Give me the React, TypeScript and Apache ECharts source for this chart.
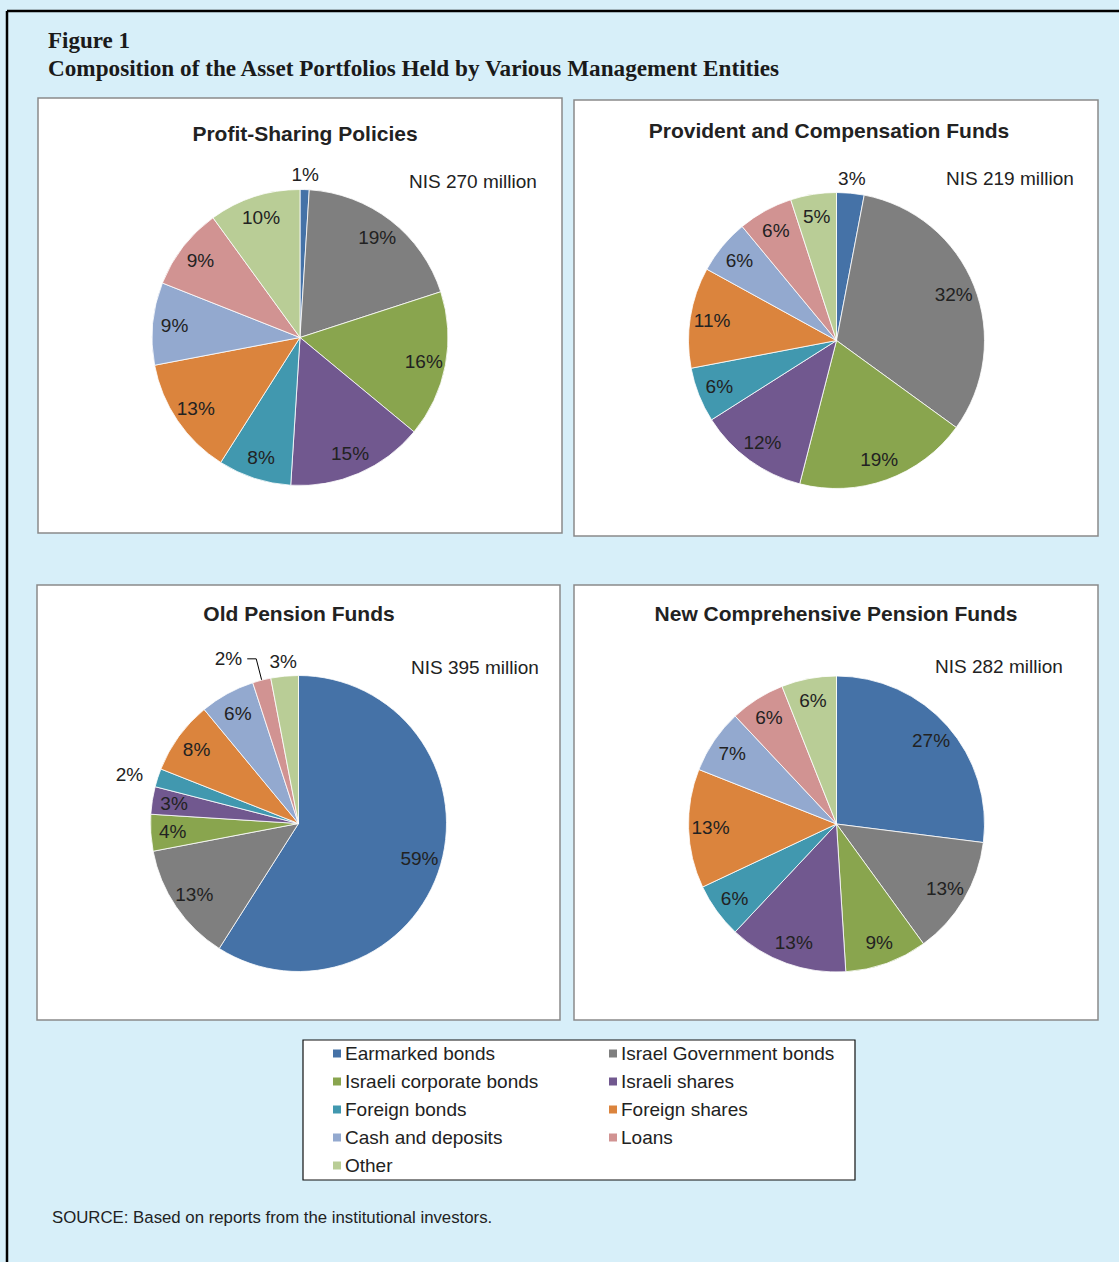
import React, { useEffect, useRef } from "react";
import * as echarts from "echarts";

const categories = [
  "Earmarked bonds",
  "Israel Government bonds",
  "Israeli corporate bonds",
  "Israeli shares",
  "Foreign bonds",
  "Foreign shares",
  "Cash and deposits",
  "Loans",
  "Other",
];
const sliceColors = ["#4572A7", "#7F7F7F", "#89A54E", "#71588F", "#4198AF", "#DB843D", "#93A9CF", "#D19392", "#B9CD96"];

const profitSharing = [1, 19, 16, 15, 8, 13, 9, 9, 10];
const providentComp = [3, 32, 19, 12, 6, 11, 6, 6, 5];
const oldPension = [59, 13, 4, 3, 2, 8, 6, 2, 3];
const newPension = [27, 13, 9, 13, 6, 13, 7, 6, 6];

// label placement per slice: in = inside, ring = just outside, line = with leader line, side = beside edge
const profitSharingLabels = ["ring", "in", "in", "in", "in", "in", "in", "in", "in"];
const providentCompLabels = ["ring", "in", "in", "in", "in", "in", "in", "in", "in"];
const oldPensionLabels = ["in", "in", "in", "in", "side", "in", "in", "line", "ring"];
const newPensionLabels = ["in", "in", "in", "in", "in", "in", "in", "in", "in"];

const panelTitles = [
  "Profit-Sharing Policies",
  "Provident and Compensation Funds",
  "Old Pension Funds",
  "New Comprehensive Pension Funds",
];
const panelTotals = ["NIS 270 million", "NIS 219 million", "NIS 395 million", "NIS 282 million"];
const figureLabel = "Figure 1";
const figureTitle = "Composition of the Asset Portfolios Held by Various Management Entities";
const sourceNote = "SOURCE: Based on reports from the institutional investors.";

const SANS = '"Liberation Sans", Arial, Helvetica, sans-serif';
const SERIF = '"Liberation Serif", "Times New Roman", serif';
const TXT = "#222";

const panels = [
  { box: [38, 98, 524, 435], center: [300, 337.5], title: [305, 133], total: [409, 181] },
  { box: [574, 100, 524, 436], center: [836.5, 340.5], title: [829, 130], total: [946, 178] },
  { box: [37, 585, 523, 435], center: [298.5, 823.5], title: [299, 613], total: [411, 667] },
  { box: [574, 585, 524, 435], center: [836.5, 824], title: [836, 613], total: [935, 666] },
];

const R = 148;

function buildSeries(values: number[], modes: string[], center: number[]) {
  const fmt = (p: any) => p.value + "%";
  const labelFont = { fontSize: 19, color: TXT, fontFamily: SANS };
  const main = {
    type: "pie",
    center,
    radius: [0, R],
    startAngle: 90,
    clockwise: true,
    avoidLabelOverlap: false,
    silent: true,
    z: 2,
    itemStyle: { borderColor: "#ffffff", borderWidth: 0.8 },
    label: { show: false, position: "outside", formatter: fmt, ...labelFont },
    labelLine: { show: false },
    emphasis: { disabled: true },
    data: values.map((v, i) => {
      const m = modes[i];
      const d: any = { name: categories[i], value: v, itemStyle: { color: sliceColors[i] } };
      if (m === "line") {
        d.label = { show: true, position: "outside" };
        d.labelLine = { show: true, length: 22, length2: 9, lineStyle: { color: "#000", width: 1 } };
      } else if (m === "side") {
        d.label = { show: true, position: "outside" };
        d.labelLine = { show: false, length: 10, length2: 0 };
      }
      return d;
    }),
  };
  const mk = (radius: number[], mode: string) => ({
    type: "pie",
    center,
    radius,
    startAngle: 90,
    clockwise: true,
    avoidLabelOverlap: false,
    silent: true,
    z: 3,
    itemStyle: { color: "rgba(0,0,0,0)", borderWidth: 0 },
    label: { show: false, position: "inside", formatter: fmt, ...labelFont },
    labelLine: { show: false },
    emphasis: { disabled: true },
    data: values.map((v, i) => ({
      name: categories[i],
      value: v,
      itemStyle: { color: "rgba(0,0,0,0)" },
      label: { show: modes[i] === mode },
    })),
  });
  return [main, mk([98, R], "in"), mk([149, 171], "ring")];
}

export default function App() {
  const ref = useRef<HTMLDivElement>(null);
  useEffect(() => {
    document.body.style.margin = "0";
    const chart = echarts.init(ref.current!, undefined, { renderer: "svg" });
    const allValues = [profitSharing, providentComp, oldPension, newPension];
    const allModes = [profitSharingLabels, providentCompLabels, oldPensionLabels, newPensionLabels];
    const series: any[] = [];
    panels.forEach((p, k) => series.push(...buildSeries(allValues[k], allModes[k], p.center)));

    const graphics: any[] = [];
    // outer frame
    graphics.push({ type: "line", z: 1, shape: { x1: 7, y1: 11, x2: 1130, y2: 11 }, style: { stroke: "#000", lineWidth: 2.5 } });
    graphics.push({ type: "line", z: 1, shape: { x1: 7, y1: 11, x2: 7, y2: 1270 }, style: { stroke: "#000", lineWidth: 2.5 } });
    graphics.push({ type: "text", z: 5, style: { text: figureLabel, x: 48, y: 40, font: `bold 23px ${SERIF}`, fill: "#1a1a1a", textAlign: "left", textVerticalAlign: "middle" } });
    graphics.push({ type: "text", z: 5, style: { text: figureTitle, x: 48, y: 68, font: `bold 23.2px ${SERIF}`, fill: "#1a1a1a", textAlign: "left", textVerticalAlign: "middle" } });
    panels.forEach((p, k) => {
      graphics.push({
        type: "rect",
        z: 1,
        shape: { x: p.box[0], y: p.box[1], width: p.box[2], height: p.box[3] },
        style: { fill: "#ffffff", stroke: "#8a8a8a", lineWidth: 1.5 },
      });
      graphics.push({ type: "text", z: 5, style: { text: panelTitles[k], x: p.title[0], y: p.title[1], font: `bold 21px ${SANS}`, fill: TXT, textAlign: "center", textVerticalAlign: "middle" } });
      graphics.push({ type: "text", z: 5, style: { text: panelTotals[k], x: p.total[0], y: p.total[1], font: `19px ${SANS}`, fill: TXT, textAlign: "left", textVerticalAlign: "middle" } });
    });
    graphics.push({ type: "rect", z: 1, shape: { x: 303, y: 1040, width: 552, height: 140 }, style: { fill: "#ffffff", stroke: "#111", lineWidth: 1.2 } });
    graphics.push({ type: "text", z: 5, style: { text: sourceNote, x: 52, y: 1217, font: `16.8px ${SANS}`, fill: TXT, textAlign: "left", textVerticalAlign: "middle" } });

    const legendBase = {
      orient: "vertical",
      icon: "rect",
      itemWidth: 10,
      itemHeight: 10,
      itemGap: 9,
      padding: 0,
      selectedMode: false,
      textStyle: { fontSize: 19, lineHeight: 18, color: TXT, fontFamily: SANS, padding: [0, 0, 0, -2] },
      z: 6,
    };
    chart.setOption({
      animation: false,
      backgroundColor: "#d7eff9",
      graphic: { elements: graphics },
      legend: [
        { ...legendBase, left: 331, top: 1044, data: [categories[0], categories[2], categories[4], categories[6], categories[8]] },
        { ...legendBase, left: 607, top: 1044, data: [categories[1], categories[3], categories[5], categories[7]] },
      ],
      series,
    });
    return () => chart.dispose();
  }, []);
  return <div ref={ref} style={{ width: 1119, height: 1262 }} />;
}
